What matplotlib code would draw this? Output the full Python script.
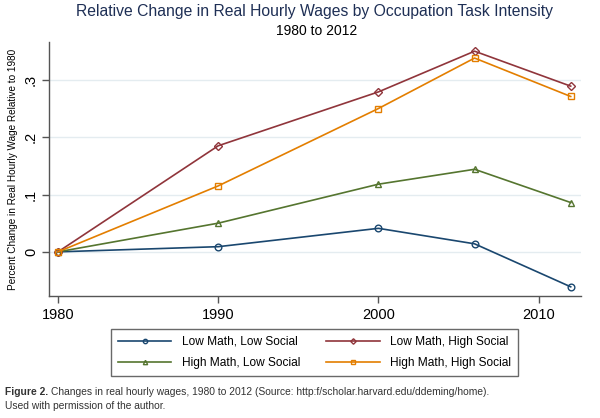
import matplotlib
matplotlib.use("Agg")
import matplotlib.pyplot as plt

plt.rcParams['font.family'] = ['Liberation Sans', 'DejaVu Sans']

years = [1980, 1990, 2000, 2006, 2012]
low_math_low_social = [0.0, 0.009, 0.041, 0.014, -0.061]
low_math_high_social = [0.0, 0.185, 0.279, 0.350, 0.289]
high_math_low_social = [0.0, 0.050, 0.118, 0.144, 0.086]
high_math_high_social = [0.0, 0.115, 0.250, 0.338, 0.271]

x_ticks = [1980, 1990, 2000, 2010]
y_ticks = [0, 0.1, 0.2, 0.3]
y_tick_labels = ['0', '.1', '.2', '.3']

fig = plt.figure(figsize=(6, 4.18), dpi=100)
ax = fig.add_axes([0.0817, 0.2919, 0.8863, 0.6076])

series = [
    ("Low Math, Low Social", low_math_low_social, '#1a476f', 'o'),
    ("High Math, Low Social", high_math_low_social, '#55752f', '^'),
    ("Low Math, High Social", low_math_high_social, '#90353b', 'D'),
    ("High Math, High Social", high_math_high_social, '#e37e00', 's'),
]
for label, vals, color, m in series:
    ms = 4.3 if m == 'D' else 4.8
    ax.plot(years, vals, color=color, lw=1.2, marker=m, markersize=ms,
            markerfacecolor='none', markeredgecolor=color, markeredgewidth=1.0,
            label=label)

ax.set_xlim(1979.44, 2012.63)
ax.set_ylim(-0.077, 0.366)
ax.set_xticks(x_ticks)
ax.set_xticklabels([str(t) for t in x_ticks], fontsize=10.5)
ax.set_yticks(y_ticks)
ax.set_yticklabels(y_tick_labels, fontsize=10.5, rotation=90, va='center')
ax.grid(axis='y', color='#e4ecf0', lw=1.0)
ax.set_axisbelow(True)
for s in ['top', 'right']:
    ax.spines[s].set_visible(False)
for s in ['left', 'bottom']:
    ax.spines[s].set_color('#555555')
    ax.spines[s].set_linewidth(1.0)
ax.tick_params(direction='out', length=5, color='#555555', width=1.0)
ax.tick_params(axis='y', pad=3)
ax.set_ylabel('Percent Change in Real Hourly Wage Relative to 1980', fontsize=7.2)
ax.yaxis.set_label_coords(-0.058, 0.5)

fig.text(0.525, 0.972, 'Relative Change in Real Hourly Wages by Occupation Task Intensity',
         ha='center', va='center', fontsize=11.3, color='#1e2f55')
fig.text(0.527, 0.925, '1980 to 2012', ha='center', va='center', fontsize=10, color='black')

leg = fig.legend(loc='center', bbox_to_anchor=(0.524, 0.1567), ncol=2, fontsize=8.6,
                 frameon=True, fancybox=False, edgecolor='#444444', handlelength=4.5,
                 columnspacing=2.2, handletextpad=0.85, borderpad=0.6, labelspacing=0.8,
                 markerscale=0.65)
leg.get_frame().set_linewidth(1.0)

cap_fs = 7.4
t0 = fig.text(0.008, 0.062, 'Figure 2.', fontsize=cap_fs, color='#333333', va='center',
              fontweight='bold')
fig.canvas.draw()
bb = t0.get_window_extent(renderer=fig.canvas.get_renderer())
x_next = (bb.x1 + 3) / fig.bbox.width
fig.text(x_next, 0.062, 'Changes in real hourly wages, 1980 to 2012 (Source: http:f/scholar.harvard.edu/ddeming/home).',
         fontsize=cap_fs, color='#333333', va='center')
fig.text(0.008, 0.029, 'Used with permission of the author.', fontsize=cap_fs, color='#333333', va='center')

fig.savefig('out.png', dpi=100)
